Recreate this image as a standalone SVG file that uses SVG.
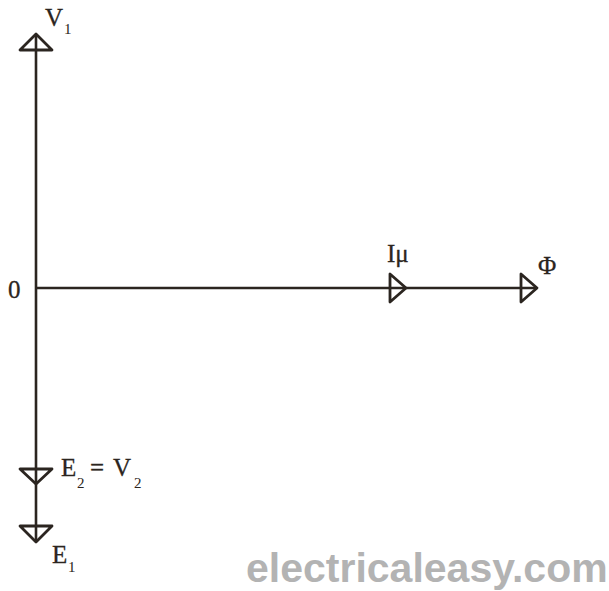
<svg xmlns="http://www.w3.org/2000/svg" width="609" height="591" viewBox="0 0 609 591">
<style>
.ax{stroke:#2b2520;stroke-width:2.6;fill:none}
.ah{stroke:#2b2520;stroke-width:2.8;fill:none;stroke-linejoin:round}
.t{font-family:"Liberation Serif",serif;font-size:25px;fill:#2b2520;stroke:#2b2520;stroke-width:0.3}
.s{font-family:"Liberation Serif",serif;font-size:15px;fill:#2b2520}
.w{font-family:"Liberation Sans",Arial,sans-serif;font-size:41px;font-weight:bold;fill:#b3b3b3}
</style>
<rect width="609" height="591" fill="#fff"/>
<g id="connectors">
<line class="ax" x1="36" y1="34" x2="36" y2="542"/>
<line class="ax" x1="36" y1="288" x2="537" y2="288"/>
</g>
<g id="V1">
<polygon class="ah" points="36,34 20,50 52,50"/>
<text class="t" x="45" y="26">V</text><text class="s" x="64" y="34">1</text>
</g>
<g id="origin"><text class="t" x="8" y="298">0</text></g>
<g id="Imu">
<polygon class="ah" points="406,288 390,274 390,302"/>
<text class="t" x="387" y="262">Iμ</text>
</g>
<g id="Phi">
<polygon class="ah" points="537,288 521,274 521,302"/>
<text class="t" x="538" y="274">Φ</text>
</g>
<g id="E2V2">
<polygon class="ah" points="36,484 20,469 52,469"/>
<text class="t" x="61" y="476">E</text><text class="s" x="77" y="488">2</text>
<text class="t" x="90" y="476">=</text>
<text class="t" x="113" y="476">V</text><text class="s" x="134" y="488">2</text>
</g>
<g id="E1">
<polygon class="ah" points="36,542 20,526 52,526"/>
<text class="t" x="52" y="563">E</text><text class="s" x="68" y="572">1</text>
</g>
<text class="w" x="246" y="582">electricaleasy.com</text>
</svg>
